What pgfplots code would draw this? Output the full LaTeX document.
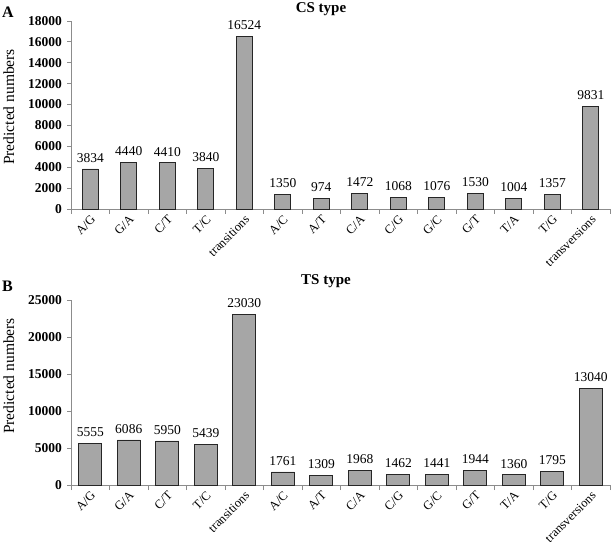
\documentclass[border=0pt]{standalone}
\usepackage{fontspec}
\setmainfont{Liberation Serif}
\usepackage{pgfplots}
\pgfplotsset{compat=1.18}
\definecolor{barfill}{HTML}{A6A6A6}
\definecolor{axgray}{HTML}{8C8C8C}
\pgfplotsset{
  mybars/.style={
    scale only axis,
    width=539bp,
    xmin=-0.5, xmax=13.5,
    ymin=0,
    axis lines*=left,
    axis line style={draw=axgray, line width=0.8bp},
    every tick/.style={draw=axgray, line width=0.8bp},
    tick align=outside,
    major tick length=4bp,
    minor tick length=5bp,
    xtick={0,...,13},
    xticklabels={A/G,G/A,C/T,T/C,transitions,A/C,A/T,C/A,C/G,G/C,G/T,T/A,T/G,transversions},
    major x tick style={draw=none},
    minor xtick={-0.5,0.5,...,13.5},
    xticklabel style={rotate=45, anchor=north east, inner sep=1bp, font=\fontsize{12.5bp}{13bp}\selectfont},
    yticklabel style={font=\fontsize{13.5bp}{14bp}\selectfont\bfseries, inner sep=2bp, xshift=-3bp},
    /pgf/number format/assume math mode=true,
    /pgf/number format/1000 sep={},
    scaled y ticks=false,
    ybar, bar shift=0pt,
    nodes near coords,
    every node near coord/.append style={font=\fontsize{13.5bp}{14bp}\selectfont, black, yshift=3bp},
    clip=false,
  }
}
\begin{document}
\begin{tikzpicture}
\useasboundingbox (0bp,0bp) rectangle (614bp,555bp);
\begin{axis}[mybars,
  at={(71bp,346bp)}, anchor=south west,
  height=188bp, ymax=18000,
  ytick={0,2000,...,18000},
  bar width=16bp]
\addplot[fill=barfill, draw=black!85, line width=0.9bp] coordinates {
(0,3834) (1,4440) (2,4410) (3,3840) (4,16524) (5,1350) (6,974) (7,1472) (8,1068) (9,1076) (10,1530) (11,1004) (12,1357) (13,9831)};
\end{axis}
\begin{axis}[mybars,
  at={(71bp,70bp)}, anchor=south west,
  height=185bp, ymax=25000,
  ytick={0,5000,...,25000},
  bar width=23bp]
\addplot[fill=barfill, draw=black!85, line width=0.9bp] coordinates {
(0,5555) (1,6086) (2,5950) (3,5439) (4,23030) (5,1761) (6,1309) (7,1968) (8,1462) (9,1441) (10,1944) (11,1360) (12,1795) (13,13040)};
\end{axis}
\node[anchor=base west, inner sep=0, font=\fontsize{16bp}{16bp}\selectfont\bfseries] at (2bp,537bp) {A};
\node[anchor=base west, inner sep=0, font=\fontsize{16bp}{16bp}\selectfont\bfseries] at (2bp,263bp) {B};
\node[anchor=base, inner sep=0, font=\fontsize{15bp}{15bp}\selectfont\bfseries] at (321bp,542bp) {CS type};
\node[anchor=base, inner sep=0, font=\fontsize{15bp}{15bp}\selectfont\bfseries] at (326bp,270bp) {TS type};
\node[rotate=90, anchor=base, inner sep=0, font=\fontsize{15.5bp}{16bp}\selectfont] at (14bp,448bp) {Predicted numbers};
\node[rotate=90, anchor=base, inner sep=0, font=\fontsize{15.5bp}{16bp}\selectfont] at (14bp,179bp) {Predicted numbers};
\end{tikzpicture}
\end{document}
